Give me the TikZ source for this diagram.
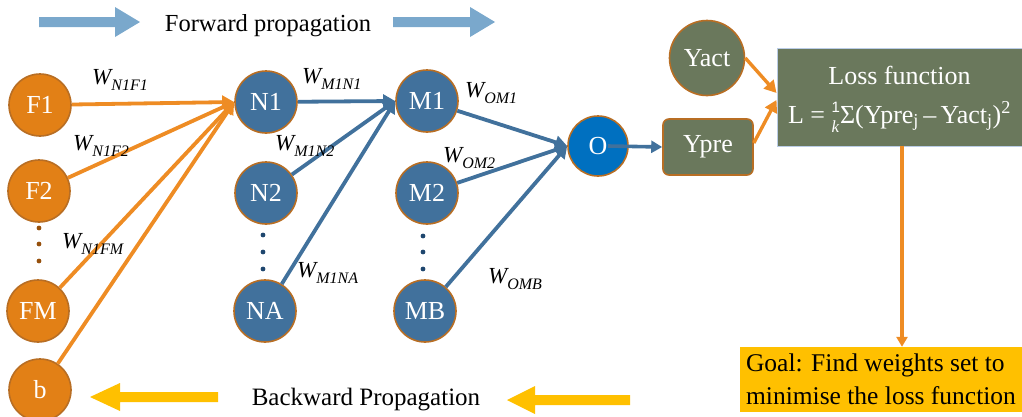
\documentclass[tikz,border=0pt]{standalone}
\usepackage{fontspec}
\setmainfont{Liberation Serif}
\setsansfont{Liberation Sans}
\usetikzlibrary{arrows.meta}

\definecolor{inorange}{RGB}{226,128,22}
\definecolor{rimorange}{RGB}{184,110,36}
\definecolor{edgeorange}{RGB}{238,140,36}
\definecolor{hidblue}{RGB}{65,113,156}
\definecolor{outblue}{RGB}{0,112,192}
\definecolor{olive}{RGB}{106,120,92}
\definecolor{lossrim}{RGB}{186,204,230}
\definecolor{goalyellow}{RGB}{255,192,0}
\definecolor{fwdblue}{RGB}{122,168,204}
\definecolor{dotorange}{RGB}{150,80,12}
\definecolor{dotblue}{RGB}{30,70,110}

\newcommand\nodefont{\fontsize{26}{30}\selectfont}
\newcommand\wlab[1]{{\fontsize{23}{23}\selectfont\itshape W\raisebox{-6pt}{\fontsize{16}{16}\selectfont #1}}}

\tikzset{
  neuron/.style={circle, minimum size=62pt, inner sep=0pt, line width=1.6pt,
                 draw=rimorange, text=white, font=\nodefont},
  inneuron/.style={neuron, fill=inorange},
  hidneuron/.style={neuron, fill=hidblue},
  outneuron/.style={neuron, fill=outblue, minimum size=60pt},
  olivebox/.style={fill=olive, draw=rimorange, line width=1.6pt, text=white, font=\nodefont},
  wtlabel/.style={anchor=base west, inner sep=0pt},
  losstext/.style={anchor=base, inner sep=0pt, text=white, font=\nodefont},
  oedge/.style={draw=edgeorange, line width=3.8pt, -{Triangle[length=12pt,width=13pt]}},
  bedge/.style={draw=hidblue, line width=3.8pt, -{Triangle[length=12pt,width=13pt]}},
  fwdarrow/.style={fill=fwdblue},
  bwdarrow/.style={fill=goalyellow},
}

\begin{document}
\begin{tikzpicture}[x=1pt, y=-1pt]
\useasboundingbox (0,0) rectangle (1022,416);

% direction banners
\fill[fwdarrow] (39,17) -- (115,17) -- (115,7) -- (140,22) -- (115,37) -- (115,27) -- (39,27) -- cycle;
\fill[fwdarrow] (393,17) -- (470,17) -- (470,7) -- (495,22) -- (470,37) -- (470,27) -- (393,27) -- cycle;
\node[anchor=base, inner sep=0pt, font=\fontsize{24.5}{28}\selectfont] (fwdtext) at (268,31) {Forward propagation};

\fill[bwdarrow] (218,392) -- (120,392) -- (120,383) -- (90,397) -- (120,411) -- (120,402) -- (218,402) -- cycle;
\fill[bwdarrow] (630,395) -- (535,395) -- (535,386) -- (507,400) -- (535,414) -- (535,405) -- (630,405) -- cycle;
\node[anchor=base, inner sep=0pt, font=\fontsize{25}{28}\selectfont] (bwdtext) at (366,405) {Backward Propagation};

% input layer
\node[inneuron] (F1) at (40,105) {F1};
\node[inneuron] (F2) at (39,191) {F2};
\node[inneuron] (FM) at (38,311) {FM};
\node[inneuron] (b)  at (40,390) {b};

% first hidden layer
\node[hidneuron] (N1) at (266,102) {N1};
\node[hidneuron] (N2) at (266,193) {N2};
\node[hidneuron] (NA) at (265,311) {NA};

% second hidden layer
\node[hidneuron] (M1) at (427,101) {M1};
\node[hidneuron] (M2) at (427,193) {M2};
\node[hidneuron] (MB) at (425,311) {MB};

% output and targets
\node[outneuron] (O) at (598,146) {O};
\node[olivebox, rounded corners=6pt, minimum width=90pt, minimum height=56pt, inner sep=0pt] (Ypre) at (708,147) {Ypre};
\node[olivebox, circle, minimum size=75pt, inner sep=0pt] (Yact) at (707,58) {Yact};

% loss function box and its two lines
\node[fill=olive, draw=lossrim, line width=1pt, minimum width=245pt, minimum height=98pt,
      inner sep=0pt] (Loss) at (899.5,97) {};
\node[losstext] (losstitle) at (899.5,84) {Loss function};
\node[losstext] (lossformula) at (899.5,123)
  {L = \rlap{\raisebox{0.42em}{\fontsize{15}{15}\selectfont\sffamily 1}}\raisebox{-0.38em}{\fontsize{17}{17}\selectfont\itshape k}\kern1pt Σ(Ypre\textsubscript{j}\,–\,Yact\textsubscript{j})\textsuperscript{2}};

% goal box
\node[fill=goalyellow, minimum width=282pt, minimum height=65pt, inner sep=2pt,
      font=\fontsize{25.5}{33}\selectfont, align=left] (Goal) at (881,379.5)
  {Goal: Find weights set to\\minimise the loss function};

% ellipsis dots
\foreach \yy [count=\i] in {228,244,261} \fill[dotorange] (39,\yy) circle (2.4pt) coordinate (fd\i);
\foreach \yy [count=\i] in {235,252,269} \fill[dotblue] (263,\yy) circle (2.4pt) coordinate (nd\i);
\foreach \yy [count=\i] in {236,252,269} \fill[dotblue] (423,\yy) circle (2.4pt) coordinate (md\i);

% input -> first hidden
\draw[oedge] (F1) -- (N1.west);
\draw[oedge] (F2) -- (N1.west);
\draw[oedge] (FM) -- (N1.west);
\draw[oedge] (b)  -- (N1.west);

% first hidden -> second hidden
\draw[bedge] (N1) -- (M1.west);
\draw[bedge] (N2) -- (M1.west);
\draw[bedge] (NA) -- (M1.west);

% second hidden -> output
\draw[bedge] (M1) -- (O.west);
\draw[bedge] (M2) -- (O.west);
\draw[bedge] (MB) -- (O.west);

% output -> prediction -> loss -> goal
\draw[draw=hidblue, line width=3.6pt, -{Triangle[length=11pt,width=12pt]}] ([xshift=10pt]O.center) -- (Ypre.west);
\draw[oedge, line width=3.4pt] (Yact.east) -- ([yshift=4pt]Loss.west);
\draw[oedge, line width=3.4pt] ([yshift=4pt]Ypre.east) -- ([yshift=-3pt]Loss.west);
\coordinate (lossfoot) at (902,146);
\draw[oedge, line width=3.4pt, -{Triangle[length=10pt,width=11pt]}] (lossfoot) -- (lossfoot |- Goal.north);

% weight labels
\node[wtlabel] (wf1) at (92,84)  {\wlab{N1F1}};
\node[wtlabel] (wf2) at (73,150) {\wlab{N1F2}};
\node[wtlabel] (wfm) at (62,248) {\wlab{N1FM}};
\node[wtlabel] (wn1) at (302,83) {\wlab{M1N1}};
\node[wtlabel] (wn2) at (275,150) {\wlab{M1N2}};
\node[wtlabel] (wna) at (297,277) {\wlab{M1NA}};
\node[wtlabel] (wm1) at (465,97) {\wlab{OM1}};
\node[wtlabel] (wm2) at (443,162) {\wlab{OM2}};
\node[wtlabel] (wmb) at (488,283) {\wlab{OMB}};
\end{tikzpicture}
\end{document}
